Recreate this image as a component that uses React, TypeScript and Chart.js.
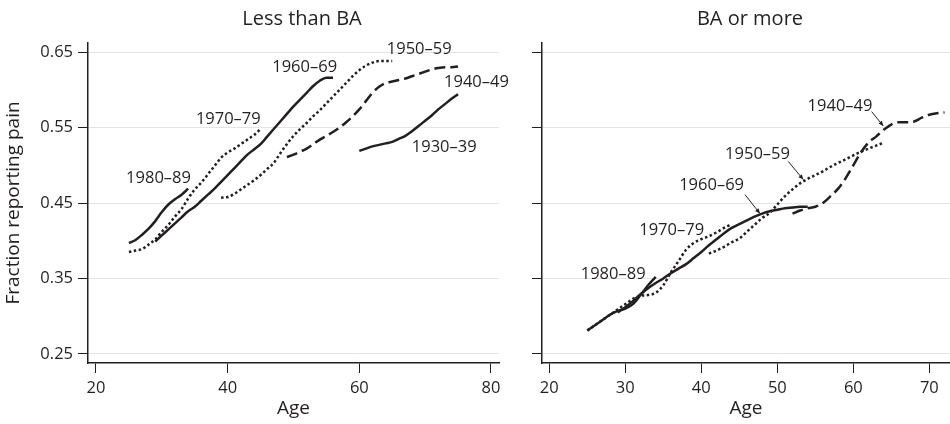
import React, { useEffect, useRef } from "react";
import { Chart, registerables } from "chart.js";

Chart.register(...registerables);

const INK = "#231f20";
const GRID = "#e4e4e4";
const FONT = "'Open Sans', 'Noto Sans', sans-serif";

// ---------- shared axis ticks ----------
const yTicks = [0.25, 0.35, 0.45, 0.55, 0.65];
const xTicksLeft = [20, 40, 60, 80];
const xTicksRight = [20, 30, 40, 50, 60, 70];

// ---------- Left panel: Less than BA ----------
const lessAges1980 = [25, 26, 27, 28, 29, 30, 31, 32, 33, 34];
const lessVals1980 = [0.397, 0.401, 0.408, 0.416, 0.426, 0.438, 0.448, 0.455, 0.461, 0.469];

const lessAges1970 = [25, 26, 27, 28, 29, 30, 31, 32, 33, 34, 35, 36, 37, 38, 39, 40, 41, 42, 43, 44, 45];
const lessVals1970 = [0.385, 0.387, 0.389, 0.395, 0.402, 0.412, 0.421, 0.432, 0.442, 0.456, 0.468, 0.477, 0.488, 0.499, 0.51, 0.517, 0.522, 0.528, 0.534, 0.54, 0.548];

const lessAges1960 = [29, 30, 31, 32, 33, 34, 35, 36, 37, 38, 39, 40, 41, 42, 43, 44, 45, 46, 47, 48, 49, 50, 51, 52, 53, 54, 55, 56];
const lessVals1960 = [0.399, 0.407, 0.415, 0.423, 0.431, 0.439, 0.445, 0.453, 0.461, 0.469, 0.478, 0.487, 0.496, 0.505, 0.514, 0.521, 0.528, 0.538, 0.548, 0.558, 0.568, 0.578, 0.587, 0.596, 0.605, 0.612, 0.616, 0.616];

const lessAges1950 = [39, 40, 41, 42, 43, 44, 45, 46, 47, 48, 49, 50, 51, 52, 53, 54, 55, 56, 57, 58, 59, 60, 61, 62, 63, 64, 65];
const lessVals1950 = [0.457, 0.458, 0.462, 0.468, 0.474, 0.48, 0.487, 0.495, 0.503, 0.516, 0.528, 0.539, 0.548, 0.556, 0.565, 0.573, 0.582, 0.591, 0.6, 0.609, 0.618, 0.626, 0.632, 0.636, 0.638, 0.638, 0.638];

const lessAges1940 = [49, 50, 51, 52, 53, 54, 55, 56, 57, 58, 59, 60, 61, 62, 63, 64, 65, 66, 67, 68, 69, 70, 71, 72, 73, 74, 75];
const lessVals1940 = [0.511, 0.514, 0.518, 0.522, 0.528, 0.534, 0.539, 0.544, 0.55, 0.557, 0.565, 0.574, 0.585, 0.596, 0.604, 0.609, 0.611, 0.613, 0.615, 0.618, 0.621, 0.624, 0.627, 0.629, 0.63, 0.63, 0.631];

const lessAges1930 = [60, 61, 62, 63, 64, 65, 66, 67, 68, 69, 70, 71, 72, 73, 74, 75];
const lessVals1930 = [0.519, 0.522, 0.525, 0.527, 0.529, 0.531, 0.535, 0.539, 0.545, 0.552, 0.559, 0.566, 0.574, 0.581, 0.588, 0.594];

// ---------- Right panel: BA or more ----------
const baAges1980 = [25, 26, 27, 28, 29, 30, 31, 32, 33, 34];
const baVals1980 = [0.281, 0.288, 0.295, 0.302, 0.307, 0.31, 0.316, 0.328, 0.341, 0.352];

const baAges1970 = [25, 26, 27, 28, 29, 30, 31, 32, 33, 34, 35, 36, 37, 38, 39, 40, 41, 42, 43, 44];
const baVals1970 = [0.281, 0.288, 0.295, 0.302, 0.309, 0.316, 0.323, 0.327, 0.328, 0.331, 0.341, 0.358, 0.373, 0.388, 0.397, 0.402, 0.406, 0.411, 0.417, 0.422];

const baAges1960 = [29, 30, 31, 32, 33, 34, 35, 36, 37, 38, 39, 40, 41, 42, 43, 44, 45, 46, 47, 48, 49, 50, 51, 52, 53, 54];
const baVals1960 = [0.305, 0.312, 0.32, 0.329, 0.337, 0.344, 0.35, 0.357, 0.363, 0.369, 0.377, 0.385, 0.394, 0.402, 0.41, 0.417, 0.422, 0.427, 0.432, 0.436, 0.439, 0.441, 0.443, 0.444, 0.445, 0.445];

const baAges1950 = [41, 42, 43, 44, 45, 46, 47, 48, 49, 50, 51, 52, 53, 54, 55, 56, 57, 58, 59, 60, 61, 62, 63, 64];
const baVals1950 = [0.383, 0.387, 0.392, 0.398, 0.403, 0.412, 0.421, 0.43, 0.437, 0.448, 0.459, 0.468, 0.476, 0.482, 0.487, 0.492, 0.498, 0.503, 0.508, 0.513, 0.518, 0.522, 0.526, 0.53];

const baAges1940 = [52, 53, 54, 55, 56, 57, 58, 59, 60, 61, 62, 63, 64, 65, 66, 67, 68, 69, 70, 71, 72];
const baVals1940 = [0.436, 0.44, 0.443, 0.445, 0.45, 0.459, 0.469, 0.483, 0.5, 0.517, 0.53, 0.538, 0.547, 0.554, 0.557, 0.557, 0.558, 0.563, 0.567, 0.569, 0.57];

// ---------- cohort labels (data coordinates) ----------
const lessNoteText = ["1980–89", "1970–79", "1960–69", "1950–59", "1940–49", "1930–39"];
const lessNoteX = [29.5, 40.1, 51.7, 69.1, 77.8, 72.9];
const lessNoteY = [0.483, 0.561, 0.63, 0.653, 0.61, 0.524];

const baNoteText = ["1980–89", "1970–79", "1960–69", "1950–59", "1940–49"];
const baNoteX = [28.4, 36.1, 41.35, 47.4, 58.25];
const baNoteY = [0.356, 0.414, 0.473, 0.514, 0.578];

// arrows: from (x1,y1) to (x2,y2) in data units
const baArrowX1 = [45.75, 51.45, 62.42];
const baArrowY1 = [0.461, 0.505, 0.571];
const baArrowX2 = [47.72, 53.42, 63.95];
const baArrowY2 = [0.436, 0.481, 0.552];

type Style = "solid" | "dotted" | "dashed";
type Series = { ages: number[]; vals: number[]; style: Style };

const lessSeries: Series[] = [
  { ages: lessAges1980, vals: lessVals1980, style: "solid" },
  { ages: lessAges1970, vals: lessVals1970, style: "dotted" },
  { ages: lessAges1960, vals: lessVals1960, style: "solid" },
  { ages: lessAges1950, vals: lessVals1950, style: "dotted" },
  { ages: lessAges1940, vals: lessVals1940, style: "dashed" },
  { ages: lessAges1930, vals: lessVals1930, style: "solid" },
];

const baSeries: Series[] = [
  { ages: baAges1980, vals: baVals1980, style: "solid" },
  { ages: baAges1970, vals: baVals1970, style: "dotted" },
  { ages: baAges1960, vals: baVals1960, style: "solid" },
  { ages: baAges1950, vals: baVals1950, style: "dotted" },
  { ages: baAges1940, vals: baVals1940, style: "dashed" },
];

function dashFor(s: Style): number[] {
  if (s === "dotted") return [2.5, 2.5];
  if (s === "dashed") return [11, 5];
  return [];
}

function notesPlugin(texts: string[], xs: number[], ys: number[], ax1: number[], ay1: number[], ax2: number[], ay2: number[]) {
  return {
    id: "cohortNotes",
    afterDatasetsDraw(chart: any) {
      const { ctx } = chart;
      const xs_ = chart.scales.x;
      const ys_ = chart.scales.y;
      ctx.save();
      ctx.fillStyle = INK;
      ctx.font = `16.5px ${FONT}`;
      ctx.textAlign = "center";
      ctx.textBaseline = "middle";
      texts.forEach((t, i) => {
        ctx.fillText(t, xs_.getPixelForValue(xs[i]), ys_.getPixelForValue(ys[i]));
      });
      ctx.strokeStyle = INK;
      ctx.lineWidth = 1;
      ax1.forEach((_, i) => {
        const x1 = xs_.getPixelForValue(ax1[i]);
        const y1 = ys_.getPixelForValue(ay1[i]);
        const x2 = xs_.getPixelForValue(ax2[i]);
        const y2 = ys_.getPixelForValue(ay2[i]);
        ctx.beginPath();
        ctx.moveTo(x1, y1);
        ctx.lineTo(x2, y2);
        ctx.stroke();
        const ang = Math.atan2(y2 - y1, x2 - x1);
        const L = 5, W = 2.2;
        ctx.beginPath();
        ctx.moveTo(x2, y2);
        ctx.lineTo(x2 - L * Math.cos(ang) + W * Math.sin(ang), y2 - L * Math.sin(ang) - W * Math.cos(ang));
        ctx.lineTo(x2 - L * Math.cos(ang) - W * Math.sin(ang), y2 - L * Math.sin(ang) + W * Math.cos(ang));
        ctx.closePath();
        ctx.fill();
      });
      ctx.restore();
    },
  };
}

type PanelOpts = {
  series: Series[];
  title: string;
  xMin: number;
  xMax: number;
  xTicks: number[];
  showYLabels: boolean;
  yAxisWidth: number;
  rightSpace: number;
  plugin: any;
};

function makeConfig(o: PanelOpts): any {
  return {
    type: "line",
    data: {
      datasets: o.series.map((s) => ({
        data: s.ages.map((a, i) => ({ x: a, y: s.vals[i] })),
        borderColor: INK,
        backgroundColor: INK,
        borderWidth: 2.5,
        borderDash: dashFor(s.style),
        borderCapStyle: "butt",
        pointRadius: 0,
        fill: false,
        cubicInterpolationMode: "monotone",
        yAxisID: "y",
        xAxisID: "x",
      })),
    },
    options: {
      responsive: false,
      animation: false,
      devicePixelRatio: 1,
      layout: { padding: 0 },
      plugins: {
        legend: { display: false },
        tooltip: { enabled: false },
        title: {
          display: true,
          text: o.title,
          color: INK,
          font: { family: FONT, size: 20, weight: "normal" },
          padding: { top: 7, bottom: 12 },
        },
      },
      scales: {
        x: {
          type: "linear",
          position: "bottom",
          min: o.xMin,
          max: o.xMax,
          afterBuildTicks: (s: any) => {
            s.ticks = o.xTicks.map((v) => ({ value: v }));
          },
          afterFit: (s: any) => {
            s.height = 61;
          },
          grid: { drawOnChartArea: false, drawTicks: true, tickLength: 10, tickColor: INK, tickWidth: 1 },
          border: { color: INK, width: 1.5 },
          ticks: { color: INK, font: { family: FONT, size: 16.5 }, padding: 5.5, maxRotation: 0, autoSkip: false },
          title: {
            display: true,
            text: "Age",
            color: INK,
            font: { family: FONT, size: 19 },
            padding: { top: 0, bottom: 4.4 },
          },
        },
        y: {
          type: "linear",
          position: "left",
          min: 0.238,
          max: 0.662,
          afterBuildTicks: (s: any) => {
            s.ticks = yTicks.map((v) => ({ value: v }));
          },
          afterFit: (s: any) => {
            s.width = o.yAxisWidth;
          },
          grid: { color: GRID, lineWidth: 1, drawTicks: true, tickLength: 10, tickColor: INK, tickWidth: 1 },
          border: { color: INK, width: 1.5 },
          ticks: {
            display: o.showYLabels,
            color: INK,
            font: { family: FONT, size: 16.5 },
            padding: 5,
            autoSkip: false,
            callback: (v: any) => Number(v).toFixed(2),
          },
          title: {
            display: o.showYLabels,
            text: "Fraction reporting pain",
            color: INK,
            font: { family: FONT, size: 19 },
            padding: { top: 2, bottom: 0 },
          },
        },
        spacer: {
          type: "linear",
          position: "right",
          display: true,
          afterFit: (s: any) => {
            s.width = o.rightSpace;
          },
          grid: { display: false, drawTicks: false },
          border: { display: false },
          ticks: { display: false },
        },
      },
    },
    plugins: [o.plugin],
  };
}

export default function App() {
  const leftRef = useRef<HTMLCanvasElement>(null);
  const rightRef = useRef<HTMLCanvasElement>(null);

  useEffect(() => {
    const left = new Chart(
      leftRef.current as HTMLCanvasElement,
      makeConfig({
        series: lessSeries,
        title: "Less than BA",
        xMin: 18.785,
        xMax: 81.22,
        xTicks: xTicksLeft,
        showYLabels: true,
        yAxisWidth: 88,
        rightSpace: 105,
        plugin: notesPlugin(lessNoteText, lessNoteX, lessNoteY, [], [], [], []),
      })
    );
    const right = new Chart(
      rightRef.current as HTMLCanvasElement,
      makeConfig({
        series: baSeries,
        title: "BA or more",
        xMin: 19.04,
        xMax: 72.72,
        xTicks: xTicksRight,
        showYLabels: false,
        yAxisWidth: 32,
        rightSpace: 40,
        plugin: notesPlugin(baNoteText, baNoteX, baNoteY, baArrowX1, baArrowY1, baArrowX2, baArrowY2),
      })
    );
    return () => {
      left.destroy();
      right.destroy();
    };
  }, []);

  return (
    <div
      style={{
        position: "fixed",
        left: 0,
        top: 0,
        width: 950,
        height: 424,
        overflow: "hidden",
        background: "#ffffff",
      }}
    >
      <canvas
        ref={leftRef}
        width={604}
        height={424}
        style={{ position: "absolute", left: 0, top: 0, width: 604, height: 424 }}
      />
      <canvas
        ref={rightRef}
        width={480}
        height={424}
        style={{ position: "absolute", left: 510, top: 0, width: 480, height: 424 }}
      />
    </div>
  );
}
